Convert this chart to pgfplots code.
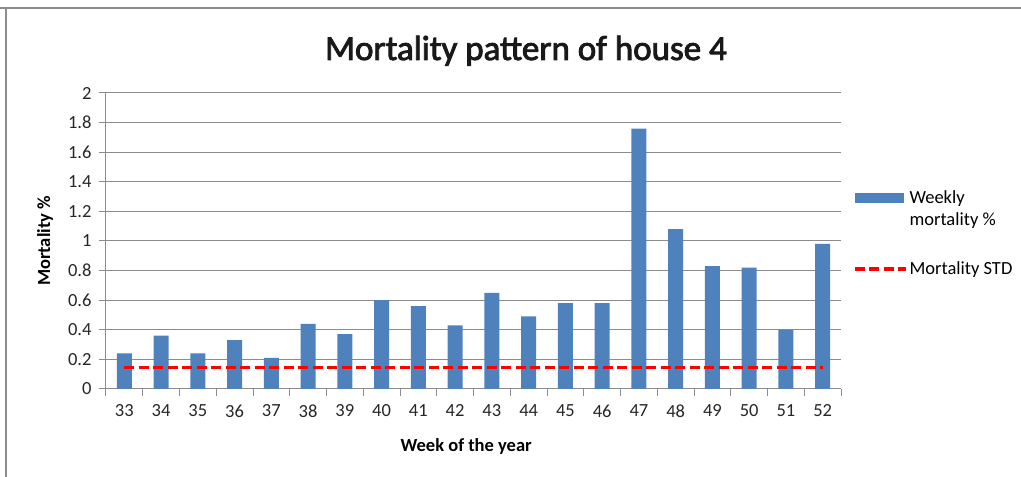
\documentclass[border=0pt]{standalone}
\usepackage{pgfplots}
\usepackage{pgfplotstable}
\pgfplotsset{compat=1.18}
\usepackage{fontspec}
\setmainfont{Carlito}
\newfontfamily\titlefont[FakeBold=2.5]{Carlito}
\definecolor{barblue}{HTML}{4F81BD}
\definecolor{axgray}{HTML}{8C8C8C}
\pgfplotstableread{
idx week val
0 33 0.24
1 34 0.36
2 35 0.24
3 36 0.33
4 37 0.21
5 38 0.44
6 39 0.37
7 40 0.60
8 41 0.56
9 42 0.43
10 43 0.65
11 44 0.49
12 45 0.58
13 46 0.58
14 47 1.76
15 48 1.08
16 49 0.83
17 50 0.82
18 51 0.40
19 52 0.98
}\weekly
\pgfplotstableread{
idx std
0 0.146
19 0.146
}\stdline
\begin{document}
\begin{tikzpicture}
\useasboundingbox (0pt,0pt) rectangle (1021pt,477pt);
\draw[axgray, line width=2pt] (0pt,469pt) -- (1021pt,469pt);
\draw[axgray, line width=1.2pt] (6pt,0pt) -- (6pt,469pt);
\node[font=\titlefont\fontsize{35}{42}\selectfont, anchor=base, text=black!90] at (526pt,417pt) {Mortality pattern of house 4};
\begin{axis}[
  at={(106pt,88pt)}, anchor=south west, scale only axis,
  width=735pt, height=296pt,
  xmin=-0.5, xmax=19.5, ymin=0, ymax=2,
  axis x line*=bottom, axis y line*=left,
  axis line style={axgray, line width=1pt},
  ymajorgrids, grid style={axgray, line width=1pt},
  tick align=outside, major tick length=7pt,
  tick style={axgray, line width=1pt},
  ytick={0,0.2,0.4,0.6,0.8,1,1.2,1.4,1.6,1.8,2},
  yticklabels={0,0.2,0.4,0.6,0.8,1,1.2,1.4,1.6,1.8,2},
  xtick={-0.5,0.5,...,19.5},
  xticklabels={},
  extra x ticks={0,1,2,3,4,5,6,7,8,9,10,11,12,13,14,15,16,17,18,19},
  extra x tick labels={33,34,35,36,37,38,39,40,41,42,43,44,45,46,47,48,49,50,51,52},
  extra x tick style={major tick length=0pt},
  ticklabel style={font=\fontsize{18.5}{22}\selectfont, text=black!85},
  xticklabel style={yshift=-12pt},
  yticklabel style={xshift=-4pt},
  xlabel={Week of the year}, ylabel={Mortality \%},
  every axis y label/.style={at={(axis description cs:-0.083,0.5)}, rotate=90, anchor=center,
    font=\bfseries\fontsize{18.5}{22}\selectfont},
  every axis x label/.style={at={(axis description cs:0.49,-0.193)}, anchor=center,
    font=\bfseries\fontsize{18.5}{22}\selectfont},
  legend style={at={(axis description cs:1.012,0.685)}, anchor=north west, draw=none, fill=none,
    font=\fontsize{18.5}{22}\selectfont, cells={align=left}, row sep=31pt},
  legend cell align=left,
]
\addplot[ybar, bar width=15pt, fill=barblue, draw=none,
  legend image code/.code={\fill[barblue] (0pt,6pt) rectangle (49pt,16pt);}]
  table[x=idx, y=val] {\weekly};
\addlegendentry{Weekly\\mortality \%}
\addplot[red, line width=3.5pt, dash pattern=on 10pt off 4.5pt, mark=none,
  legend image code/.code={\draw[red, line width=3.5pt, dash pattern=on 10pt off 4.5pt] (0pt,0pt) -- (51pt,0pt);}]
  table[x=idx, y=std] {\stdline};
\addlegendentry{Mortality STD}
\end{axis}
\end{tikzpicture}
\end{document}
